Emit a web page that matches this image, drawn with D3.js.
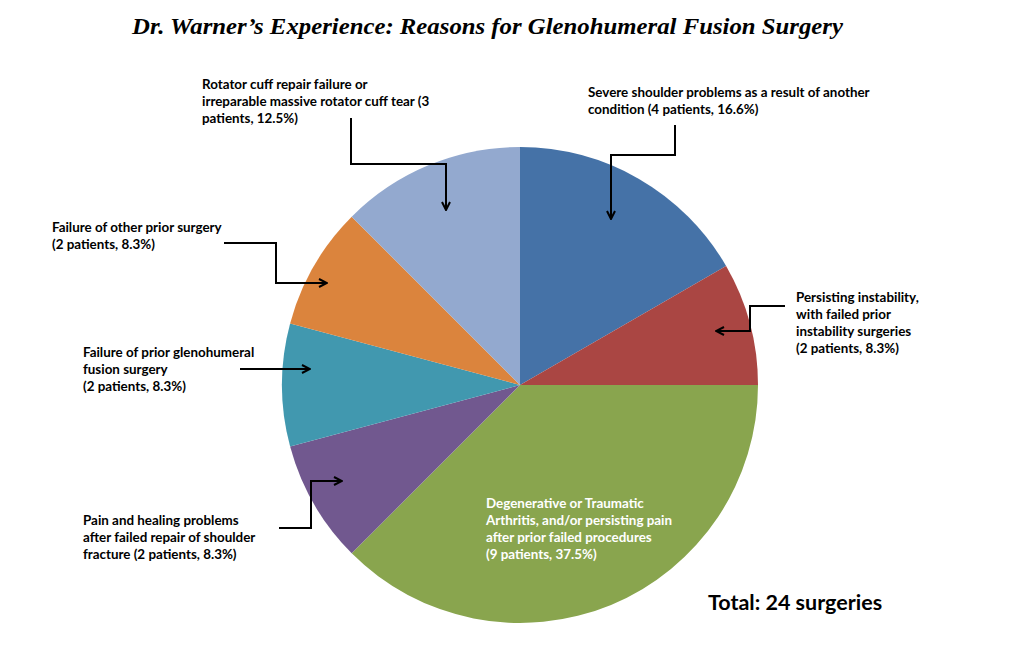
<!DOCTYPE html>
<html><head><meta charset="utf-8">
<script src="https://cdn.jsdelivr.net/npm/d3@7"></script>
<style>body{margin:0;background:#fff}svg{display:block}</style>
</head><body>
<svg id="c" width="1010" height="656"></svg>
<script>
// ---- data ----
const categories = [
  "Severe shoulder problems",
  "Persisting instability",
  "Degenerative or Traumatic Arthritis",
  "Pain and healing problems",
  "Failure of prior glenohumeral fusion",
  "Failure of other prior surgery",
  "Rotator cuff repair failure"
];
const patients = [4, 2, 9, 2, 2, 2, 3];
const colors = ["#4572A7", "#AA4643", "#89A54E", "#71588F", "#4198AF", "#DB843D", "#93A9CF"];
const labelLines = [
  ["Severe shoulder problems as a result of another", "condition (4 patients, 16.6%)"],
  ["Persisting instability,", "with failed prior", "instability surgeries", "(2 patients, 8.3%)"],
  ["Degenerative or Traumatic", "Arthritis, and/or persisting pain", "after prior failed procedures", "(9 patients, 37.5%)"],
  ["Pain and healing problems", "after failed repair of shoulder", "fracture (2 patients, 8.3%)"],
  ["Failure of prior glenohumeral", "fusion surgery", "(2 patients, 8.3%)"],
  ["Failure of other prior surgery", "(2 patients, 8.3%)"],
  ["Rotator cuff repair failure or", "irreparable massive rotator cuff tear (3", "patients, 12.5%)"]
];
const title = "Dr. Warner\u2019s Experience: Reasons for Glenohumeral Fusion Surgery";
const totalText = "Total: 24 surgeries";

// ---- layout (positions) ----
const cx = 520, cy = 385, R = 238;
const labelPos = [ // x, first baseline y, fill
  [588, 97, "#000"], [796, 302, "#000"], [486, 508, "#fff"], [83, 525, "#000"],
  [83, 357, "#000"], [52, 232, "#000"], [202, 89, "#000"]
];
const arrows = [
  [[675,125],[675,155],[611,155],[611,219]],
  [[785,306],[750,306],[750,331],[716,331]],
  null,
  [[279,528],[311,528],[311,481],[342,481]],
  [[240,369],[310,369]],
  [[224,243],[276,243],[276,283],[327,283]],
  [[351,118],[351,164],[446,164],[446,210]]
];

const svg = d3.select("#c");
svg.append("defs").append("marker")
  .attr("id","ah").attr("viewBox","0 0 10 10").attr("refX",9).attr("refY",5)
  .attr("markerWidth",10).attr("markerHeight",10).attr("markerUnits","userSpaceOnUse")
  .attr("orient","auto")
  .append("path").attr("d","M1,1 L9,5 L1,9").attr("fill","none").attr("stroke","#000").attr("stroke-width",2);

const pie = d3.pie().sort(null).value(d => d);
const arc = d3.arc().innerRadius(0).outerRadius(R);
const g = svg.append("g").attr("transform", `translate(${cx},${cy})`);
g.selectAll("path").data(pie(patients)).join("path")
  .attr("d", arc).attr("fill", (d,i) => colors[i]);

svg.append("text").attr("x", 487.5).attr("y", 34).attr("text-anchor","middle")
  .attr("font-family","'Liberation Serif', serif").attr("font-style","italic").attr("font-weight","bold")
  .attr("font-size", 24).attr("textLength", 711).attr("lengthAdjust","spacingAndGlyphs")
  .attr("fill","#000").text(title);

labelLines.forEach((lines, i) => {
  const [x, y, fill] = labelPos[i];
  const t = svg.append("text").attr("font-family","Lato, 'Open Sans', sans-serif")
    .attr("font-weight","bold").attr("font-size", 13.4).attr("fill", fill);
  lines.forEach((ln, j) => t.append("tspan").attr("x", x).attr("y", y + j*17).text(ln));
});

const line = d3.line();
arrows.forEach(a => {
  if (!a) return;
  svg.append("path").attr("d", line(a)).attr("fill","none").attr("stroke","#000")
    .attr("stroke-width",2).attr("marker-end","url(#ah)");
});

svg.append("text").attr("x", 708).attr("y", 610)
  .attr("font-family","Lato, sans-serif").attr("font-weight","bold").attr("font-size", 21.5)
  .attr("fill","#000").text(totalText);
</script>
</body></html>
